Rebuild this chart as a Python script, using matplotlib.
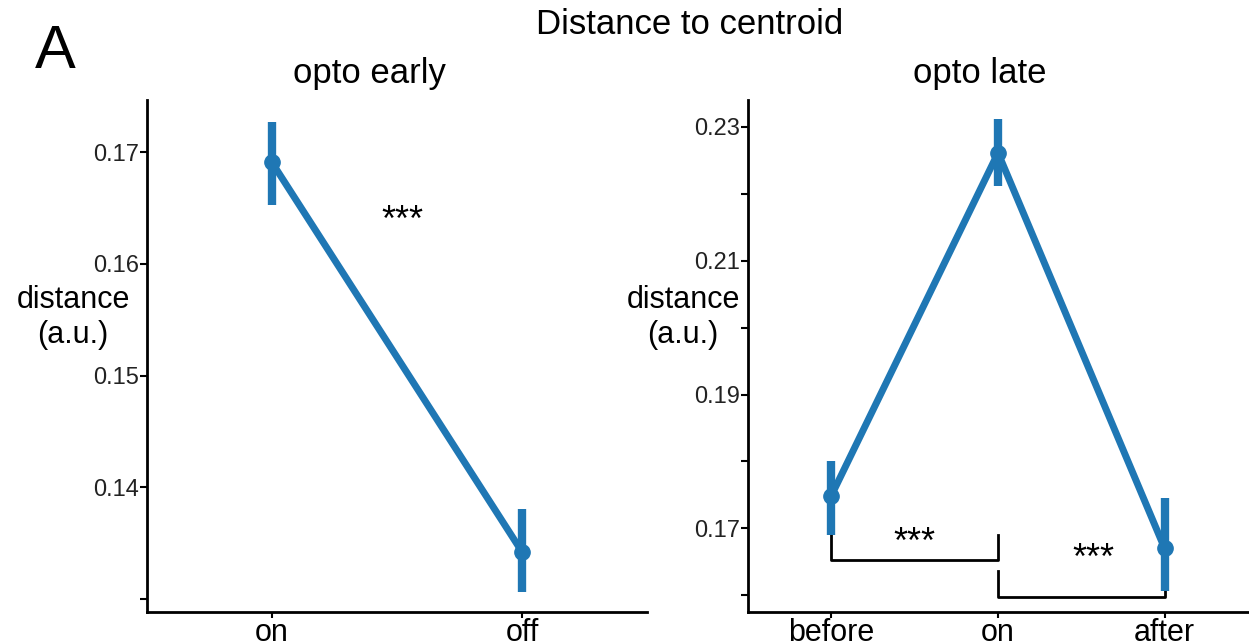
import matplotlib
matplotlib.use("Agg")
import matplotlib.pyplot as plt

plt.rcParams['font.family'] = ['Liberation Sans', 'DejaVu Sans']

blue = '#1f77b4'

# opto early
early_cats = ['on', 'off']
early_mean = [0.1691, 0.1342]
early_lo = [0.1653, 0.1306]
early_hi = [0.1727, 0.1380]

# opto late
late_cats = ['before', 'on', 'after']
late_mean = [0.1749, 0.2261, 0.1670]
late_lo = [0.1690, 0.2212, 0.1607]
late_hi = [0.1801, 0.2312, 0.1745]

fig = plt.figure(figsize=(12.49, 6.42), dpi=100)
ax1 = fig.add_axes([0.1177, 0.0467, 0.4003, 0.7975])
ax2 = fig.add_axes([0.5989, 0.0467, 0.4003, 0.7975])


def draw(ax, cats, mean, lo, hi):
    xs = list(range(len(cats)))
    ax.plot(xs, mean, color=blue, lw=5, marker='o', ms=11, zorder=3)
    for x, l, h in zip(xs, lo, hi):
        ax.plot([x, x], [l, h], color=blue, lw=6, solid_capstyle='butt', zorder=3)
    ax.set_xticks(xs)
    ax.set_xticklabels(cats, fontsize=22)
    ax.set_xlim(-0.5, len(cats) - 0.5)
    for s in ['top', 'right']:
        ax.spines[s].set_visible(False)
    for s in ['left', 'bottom']:
        ax.spines[s].set_linewidth(2)
    ax.tick_params(axis='x', length=4, width=1.5, pad=0)
    ax.tick_params(axis='y', length=5, width=1.5, pad=1, labelsize=17, labelcolor='#222222')


draw(ax1, early_cats, early_mean, early_lo, early_hi)
ax1.set_ylim(0.1288, 0.1747)
ax1.set_yticks([0.13, 0.14, 0.15, 0.16, 0.17])
ax1.set_yticklabels(['', '0.14', '0.15', '0.16', '0.17'])
ax1.text(0.52, 0.1638, '***', fontsize=26, ha='center', va='center')
ax1.text(0.444, 1.02, 'opto early', transform=ax1.transAxes, fontsize=25,
         ha='center', va='bottom')
ax1.set_ylabel('distance\n(a.u.)', fontsize=22, rotation=0, ha='center',
               va='center', labelpad=0)
ax1.yaxis.set_label_coords(-0.148, 0.575)

draw(ax2, late_cats, late_mean, late_lo, late_hi)
ax2.set_ylim(0.1575, 0.234)
ax2.set_yticks([0.16, 0.17, 0.18, 0.19, 0.20, 0.21, 0.22, 0.23])
ax2.set_yticklabels(['', '0.17', '', '0.19', '', '0.21', '', '0.23'])
ax2.text(0.464, 1.02, 'opto late', transform=ax2.transAxes, fontsize=25,
         ha='center', va='bottom')
ax2.set_ylabel('distance\n(a.u.)', fontsize=22, rotation=0, ha='center',
               va='center', labelpad=0)
ax2.yaxis.set_label_coords(-0.13, 0.575)

# significance brackets
ax2.plot([0, 0, 1, 1], [0.1690, 0.1652, 0.1652, 0.1690], color='black', lw=2)
ax2.text(0.5, 0.1678, '***', fontsize=26, ha='center', va='center')
ax2.plot([1, 1, 2, 2], [0.1637, 0.1597, 0.1597, 0.1637], color='black', lw=2)
ax2.text(1.57, 0.1653, '***', fontsize=26, ha='center', va='center')

fig.text(0.552, 0.962, 'Distance to centroid', fontsize=25, ha='center', va='center')
fig.text(0.044, 0.918, 'A', fontsize=44, ha='center', va='center')

fig.savefig('out.png', dpi=100)
